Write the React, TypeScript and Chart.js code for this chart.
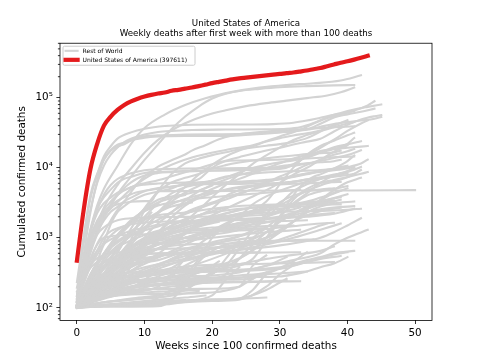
import React, { useEffect, useRef } from 'react';
import { Chart, registerables } from 'chart.js';

Chart.register(...registerables);

type Series = [number, number][];

const titleLines = ['United States of America', 'Weekly deaths after first week with more than 100 deaths'];
const xTitle = 'Weeks since 100 confirmed deaths';
const yTitle = 'Cumulated confirmed deaths';
const usaLabel = 'United States of America (397611)';
const restLabel = 'Rest of World';
const xTickValues = [0, 10, 20, 30, 40, 50];
const yTickValues = [100, 1000, 10000, 100000];
const yTickLabels = ['10²', '10³', '10⁴', '10⁵'];

const usaColor = '#e41a1c';
const greyColor = '#d3d3d3';

const usa: Series = [[0,470],[1,2500],[2,9600],[3,22000],[4,40000],[5,54000],[6,67000],[7,79000],[8,89000],[9,97000],[10,104000],[11,110000],[12,115000],[13,119000],[14,126000],[15,130000],[16,135000],[17,140000],[18,147000],[19,154000],[20,162000],[21,169000],[22,176000],[23,183000],[24,189000],[25,194000],[26,199000],[27,204000],[28,209000],[29,214000],[30,219000],[31,225000],[32,230000],[33,237000],[34,245000],[35,256000],[36,266000],[37,282000],[38,299000],[39,317000],[40,332000],[41,351000],[42,373000],[43,397611]];

const brazil: Series = [[0,136],[1,486],[2,1328],[3,2906],[4,5017],[6,10627],[8,22013],[10,37134],[13,57622],[16,78772],[19,98644],[23,121381],[27,139808],[31,152460],[35,161106],[39,176628],[42,209296]];
const india: Series = [[0,109],[2,603],[4,1895],[6,4187],[8,7466],[10,12948],[12,21604],[14,35747],[16,53994],[18,75062],[20,97497],[22,114031],[24,124985],[27,134000],[30,141360],[34,146756],[38,150336],[41,152093]];
const mexico: Series = [[0,125],[2,857],[4,2704],[6,5666],[8,9779],[10,16448],[12,25060],[14,34191],[16,43374],[19,55908],[22,66329],[25,76000],[28,84000],[31,91000],[34,99000],[37,108000],[39,120000],[41,140241]];
const uk: Series = [[0,233],[1,1019],[2,3605],[3,7978],[4,14607],[5,20319],[6,26097],[8,32065],[10,36042],[13,39500],[17,41300],[24,41500],[29,42100],[32,44000],[34,47250],[36,51900],[38,57000],[40,62000],[42,71000],[43,78000],[44,89261]];
const italy: Series = [[0,148],[1,827],[2,2503],[3,6077],[4,10779],[5,15362],[6,19468],[7,23227],[8,25969],[10,29958],[12,32486],[14,33689],[17,34700],[22,35200],[28,35473],[31,36000],[33,37905],[35,43589],[37,52850],[39,60606],[41,67894],[43,74159],[45,80326]];
const spain: Series = [[0,136],[1,1002],[2,4089],[3,8189],[4,13055],[5,17489],[6,20043],[7,21717],[8,24543],[10,26834],[12,27940],[16,28432],[22,28500],[26,30000],[30,32000],[34,35000],[36,38500],[38,42300],[40,45000],[42,47300],[44,50100],[45,53300]];
const france: Series = [[0,127],[1,562],[2,2314],[3,6507],[4,13197],[5,17920],[6,21340],[7,22856],[8,24760],[10,28108],[12,29065],[16,29778],[20,30120],[24,30305],[27,31000],[30,32300],[32,33400],[34,35400],[36,42600],[38,52300],[40,58000],[42,63200],[44,70000]];
const russia: Series = [[0,148],[2,867],[4,2009],[6,3249],[9,6000],[13,10000],[17,14000],[22,18000],[26,21000],[30,28000],[33,35000],[36,47000],[39,58000],[41,65000]];
const iran: Series = [[0,194],[1,514],[2,988],[3,1685],[4,2517],[5,3294],[6,4110],[8,5297],[10,6028],[12,6640],[14,7564],[16,8659],[18,9863],[20,11260],[22,12635],[24,14188],[26,15912],[28,17617],[30,19331],[32,21571],[34,23632],[36,26000],[38,33000],[40,41000],[42,49000],[44,54500],[45,56538]];
const colombia: Series = [[0,112],[2,215],[4,358],[6,546],[8,905],[10,1372],[12,2310],[14,3623],[16,5307],[18,7975],[20,11017],[22,14492],[24,17612],[26,20348],[28,23665],[30,26556],[32,28970],[34,31135],[36,34000],[38,40000],[40,48000]];
const argentina: Series = [[0,100],[2,176],[4,250],[6,331],[8,476],[10,632],[12,913],[14,1245],[16,1720],[18,2490],[20,3800],[22,5703],[24,8050],[26,11410],[28,15000],[30,19411],[32,24921],[34,29301],[36,33560],[38,38000],[40,43000],[41,45125]];
const germany: Series = [[0,108],[1,444],[2,1275],[3,2607],[4,3804],[5,4879],[6,6126],[7,6993],[8,7417],[10,8450],[12,8700],[16,8970],[20,9128],[26,9350],[30,9600],[32,10900],[34,14800],[36,19300],[38,25200],[40,33600],[42,43000],[43,47600]];
const peru: Series = [[0,121],[1,230],[2,484],[3,826],[4,1200],[5,1770],[6,2500],[7,3300],[8,4500],[9,6000],[10,7500],[12,10400],[14,12800],[16,15500],[17,17600],[19,21000],[21,25600],[23,28900],[25,31000],[28,33000],[31,34400],[34,35900],[37,37400],[39,38300],[41,39274]];
const southAfrica: Series = [[0,103],[2,148],[4,311],[6,611],[8,1354],[10,2657],[12,4669],[14,8153],[16,11556],[18,13502],[20,15168],[22,16667],[24,18370],[26,19539],[28,20671],[30,21803],[32,23451],[34,26521],[36,32824],[37,37449],[38,40574]];
const poland: Series = [[0,109],[2,245],[4,460],[6,733],[8,915],[10,1092],[12,1260],[14,1375],[16,1550],[18,1682],[20,1844],[22,2010],[24,2230],[26,2467],[28,3308],[30,5783],[32,10045],[34,15396],[36,20592],[38,24345],[40,29119],[41,31600]];
const indonesia: Series = [[0,170],[2,373],[4,520],[6,773],[8,1063],[10,1418],[12,1801],[14,2339],[16,3089],[18,3957],[20,4975],[22,5968],[24,6944],[26,8230],[28,9837],[30,11580],[32,13611],[34,15148],[36,16646],[38,18500],[40,22000],[41,26590]];
const turkey: Series = [[0,108],[1,356],[2,812],[3,1518],[4,2259],[5,2900],[6,3397],[8,4199],[10,4692],[12,5025],[14,5409],[16,5738],[18,6150],[20,6497],[22,7300],[24,8600],[26,9900],[28,11000],[30,12000],[32,12700],[34,14000],[36,16500],[38,19700],[40,21600],[42,24000]];
const ukraine: Series = [[0,108],[2,272],[4,450],[6,550],[8,700],[10,900],[12,1100],[14,1280],[16,1500],[18,1750],[20,2100],[22,2600],[24,3200],[26,3900],[28,4800],[30,6100],[32,8000],[34,10000],[36,13000],[38,17000],[40,21000]];
const belgium: Series = [[0,122],[1,431],[2,1283],[3,2523],[4,4157],[5,5683],[6,6917],[7,7703],[8,8339],[10,9237],[12,9548],[16,9726],[22,9870],[28,10000],[30,10100],[31,10500],[32,11300],[33,12900],[34,14600],[35,16000],[36,17300],[38,18600],[40,19300],[43,20500]];
const romania: Series = [[0,114],[2,300],[4,581],[6,850],[8,1116],[10,1280],[12,1450],[14,1740],[16,2178],[18,2599],[20,3054],[22,3515],[24,4200],[26,5000],[28,6100],[30,7500],[32,9000],[34,11000],[36,13000],[38,15300],[40,17200],[41,18500]];
const chile: Series = [[0,105],[2,168],[4,270],[6,421],[8,944],[10,2475],[12,4502],[14,6192],[16,7186],[18,8138],[20,9745],[22,10916],[24,11895],[26,12725],[28,13635],[30,14404],[32,15000],[34,15663],[36,16124],[38,16608],[39,17500]];
const canada: Series = [[0,106],[1,280],[2,653],[3,1310],[4,2142],[5,3014],[6,4048],[7,5134],[8,6176],[9,7081],[10,7770],[12,8416],[14,8684],[16,8866],[20,9120],[24,9320],[28,9830],[30,10175],[32,10670],[34,11500],[36,12470],[38,13800],[40,15200],[42,17800]];
const ecuador: Series = [[0,120],[1,220],[2,388],[3,576],[4,883],[5,1564],[6,2327],[7,2839],[8,3313],[10,4112],[12,4574],[14,5063],[16,6070],[18,6888],[20,10000],[22,12400],[24,12700],[28,12900],[32,13300],[36,13900],[41,14500]];
const czechia: Series = [[0,112],[2,210],[4,259],[6,300],[8,319],[10,330],[14,349],[18,373],[20,401],[22,434],[24,512],[26,656],[28,1000],[29,1297],[30,2016],[31,2936],[32,4052],[33,5349],[34,6514],[35,7434],[36,8054],[38,9800],[40,12500],[41,15000]];
const netherlands: Series = [[0,106],[1,434],[2,1173],[3,2248],[4,3134],[5,3751],[6,4409],[7,4795],[8,5288],[10,5748],[12,5951],[16,6132],[22,6180],[26,6300],[28,6500],[30,6800],[32,7400],[34,8100],[36,8900],[38,9500],[40,10200],[42,11500],[43,13100]];
const iraq: Series = [[0,102],[2,120],[4,140],[6,200],[8,400],[10,1000],[12,1600],[14,2300],[16,3400],[18,4600],[20,5700],[22,6800],[24,7900],[26,8800],[28,9600],[30,10500],[32,11100],[34,11600],[36,12000],[38,12400],[39,13000]];
const hungary: Series = [[0,109],[2,213],[4,312],[6,404],[8,462],[10,517],[12,550],[16,590],[20,620],[22,680],[24,760],[26,1000],[28,1400],[30,2000],[32,3100],[34,4300],[36,6100],[38,7800],[40,9000],[41,10000]];
const pakistan: Series = [[0,107],[2,237],[4,385],[6,667],[8,1133],[10,2002],[12,3093],[14,4304],[16,5266],[18,5763],[20,6035],[22,6153],[24,6335],[26,6494],[28,6726],[30,6968],[32,7500],[34,8300],[36,9000],[38,9800],[40,10700]];
const philippines: Series = [[0,107],[2,247],[4,446],[6,558],[8,726],[10,873],[12,1036],[14,1306],[16,1603],[18,2059],[20,2600],[22,3950],[24,4800],[26,5500],[28,6200],[30,7000],[32,7700],[34,8300],[36,8750],[38,9200],[40,9800],[41,10300]];
const egypt: Series = [[0,103],[2,200],[4,295],[6,415],[8,608],[10,850],[12,1199],[14,1959],[16,2887],[18,3702],[20,4302],[22,4887],[24,5323],[26,5541],[28,5815],[30,6022],[32,6291],[34,6850],[36,7150],[38,7480],[40,7900],[41,8200]];
const bolivia: Series = [[0,102],[2,169],[4,300],[6,460],[8,800],[10,1290],[12,2220],[14,3300],[16,4400],[18,5500],[20,6600],[22,7500],[24,8000],[26,8300],[28,8600],[30,8800],[32,8950],[34,9100],[36,9300],[38,9600]];
const sweden: Series = [[0,105],[1,358],[2,687],[3,1203],[4,1765],[5,2355],[6,2769],[7,3313],[8,3743],[10,4639],[12,5122],[14,5370],[16,5700],[20,5850],[24,5900],[28,6000],[30,6100],[32,6300],[34,6800],[36,7300],[38,8000],[40,8700],[42,10300]];
const portugal: Series = [[0,119],[1,311],[2,470],[3,657],[4,820],[5,948],[6,1063],[8,1263],[10,1396],[12,1534],[14,1630],[16,1700],[20,1788],[22,1829],[24,1950],[26,2200],[28,2500],[30,2900],[32,3700],[34,4700],[36,5600],[38,6400],[40,7300],[42,9300]];
const bulgaria: Series = [[0,108],[2,130],[4,158],[6,194],[8,230],[10,304],[12,392],[14,500],[16,600],[18,700],[20,780],[22,900],[24,1050],[26,1300],[28,1900],[30,3000],[32,4600],[34,5800],[36,6900],[38,7700],[39,8100]];
const switzerland: Series = [[0,120],[1,359],[2,715],[3,1121],[4,1416],[5,1625],[6,1782],[8,1900],[10,1950],[14,1980],[20,2010],[24,2060],[28,2150],[30,2400],[31,2700],[32,3500],[33,4300],[34,5000],[36,6100],[38,6700],[40,7400],[42,8200],[43,8700]];
const bangladesh: Series = [[0,101],[2,163],[4,213],[6,298],[8,480],[10,781],[12,1171],[14,1738],[16,2275],[18,2751],[20,3184],[22,3781],[24,4333],[26,4939],[28,5555],[30,5966],[32,6350],[34,6700],[36,7100],[38,7500],[39,7900]];
const austria: Series = [[0,108],[1,243],[2,410],[3,510],[4,569],[5,600],[6,615],[8,643],[10,670],[14,700],[18,715],[22,750],[24,800],[26,890],[28,1000],[30,1200],[32,1700],[34,2500],[36,3500],[38,4800],[40,6200],[42,7200]];
const saudiArabia: Series = [[0,103],[2,144],[4,264],[6,411],[8,857],[10,1602],[12,2325],[14,3020],[16,3580],[18,4049],[20,4458],[22,4829],[24,5165],[26,5402],[28,5608],[30,5780],[32,5920],[34,6020],[36,6123],[38,6240],[39,6300]];
const morocco: Series = [[0,107],[2,137],[4,171],[6,188],[8,202],[10,210],[12,218],[14,232],[16,297],[18,494],[20,1000],[22,1500],[24,2000],[26,3000],[28,3900],[30,4700],[32,5500],[34,6300],[36,7000],[38,7700],[40,8400]];
const china: Series = [[0,132],[1,361],[2,1018],[3,1770],[4,2345],[5,2788],[6,3013],[7,3170],[8,3277],[10,3339],[11,3345],[12,4642],[14,4645],[20,4645],[30,4739],[40,4746],[50,4800]];
const japan: Series = [[0,103],[2,171],[4,370],[6,556],[8,767],[10,883],[12,916],[14,970],[16,990],[18,1010],[20,1130],[22,1400],[24,1620],[26,1740],[28,1880],[30,2010],[32,2280],[34,2660],[36,3400],[38,4400],[39,4700]];
const israel: Series = [[0,101],[2,172],[4,230],[6,264],[8,285],[10,300],[12,315],[14,370],[16,500],[18,800],[20,1100],[22,1500],[24,2000],[26,2400],[28,2700],[30,2800],[32,2900],[34,3050],[36,3300],[38,3700],[40,4200]];
const panama: Series = [[0,103],[2,176],[4,248],[6,297],[8,336],[10,457],[12,590],[14,830],[16,1127],[18,1500],[20,1900],[22,2200],[24,2480],[26,2700],[28,2800],[30,2900],[32,3050],[34,3300],[36,3750],[38,4300],[40,5100]];
const guatemala: Series = [[0,105],[2,250],[4,600],[6,1100],[8,1800],[10,2400],[12,2900],[14,3200],[16,3450],[18,3650],[20,3800],[22,3950],[24,4100],[26,4250],[28,4400],[30,4600],[33,4900]];
const honduras: Series = [[0,105],[2,130],[4,180],[6,280],[8,450],[10,750],[12,1100],[14,1500],[16,1850],[18,2100],[20,2300],[22,2450],[24,2600],[26,2700],[28,2800],[30,2900],[32,2950],[34,3050],[36,3150],[38,3250]];
const dominicanRepublic: Series = [[0,108],[2,235],[4,300],[6,400],[8,470],[10,560],[12,700],[14,900],[16,1200],[18,1600],[20,1900],[22,2050],[24,2150],[28,2280],[32,2370],[36,2420],[40,2520],[42,2600]];
const ireland: Series = [[0,100],[1,263],[2,410],[3,660],[4,1000],[5,1240],[6,1370],[8,1560],[10,1650],[14,1720],[18,1750],[22,1780],[26,1810],[30,1900],[34,2000],[38,2200],[41,2600]];
const algeria: Series = [[0,105],[2,275],[4,400],[6,460],[8,530],[10,630],[12,710],[14,800],[16,880],[18,1100],[20,1300],[22,1450],[24,1620],[26,1750],[28,1850],[30,1950],[32,2100],[34,2350],[36,2550],[38,2700],[41,2830]];
const kazakhstan: Series = [[0,105],[2,250],[4,800],[6,1300],[8,1600],[10,1900],[12,2100],[16,2300],[20,2600],[24,2850],[28,2950],[30,3000]];
const moldova: Series = [[0,103],[2,165],[4,290],[6,400],[8,550],[10,760],[12,950],[14,1130],[16,1280],[18,1500],[20,1680],[22,1900],[24,2100],[26,2300],[28,2450],[30,2600],[32,2750],[34,2850],[36,2950],[39,3000]];
const nigeria: Series = [[0,107],[2,200],[4,300],[6,420],[8,570],[10,800],[12,920],[14,1050],[16,1150],[20,1230],[24,1270],[28,1340],[32,1470],[36,1600],[38,1640]];
const kenya: Series = [[0,103],[2,150],[4,220],[6,400],[8,600],[10,800],[12,850],[14,900],[16,1000],[18,1150],[20,1300],[22,1500],[24,1600],[28,1700],[34,1780]];
const ethiopia: Series = [[0,103],[2,160],[4,300],[6,500],[8,750],[10,1000],[12,1200],[14,1400],[16,1550],[20,1730],[24,1850],[28,1950]];
const afghanistan: Series = [[0,104],[2,170],[4,270],[6,400],[8,550],[10,800],[12,1000],[14,1170],[16,1270],[20,1400],[24,1480],[26,1550],[28,1650],[30,1850],[32,2000],[34,2100],[38,2250]];
const tunisia: Series = [[0,107],[2,300],[4,600],[6,1000],[8,1600],[10,2600],[12,3500],[14,3900],[16,4200],[18,4700],[20,5600]];
const lebanon: Series = [[0,105],[4,250],[8,500],[12,700],[16,1000],[20,1300],[23,1800]];
const serbia: Series = [[0,103],[2,160],[4,200],[6,230],[8,245],[12,260],[14,300],[16,500],[18,600],[20,700],[24,760],[28,900],[30,1200],[32,1700],[34,2300],[36,2800],[38,3100],[41,3300]];
const croatia: Series = [[0,100],[4,105],[8,110],[10,115],[12,140],[14,180],[16,210],[18,260],[20,310],[22,400],[24,700],[26,1300],[28,2200],[30,3200],[32,4000],[34,4600],[36,4900],[38,5100]];
const slovakia: Series = [[0,102],[2,280],[4,580],[6,1100],[8,1700],[10,2400],[12,3000]];
const bosnia: Series = [[0,105],[4,150],[8,165],[12,200],[16,400],[20,600],[24,800],[28,1200],[30,1700],[32,2200],[34,2800],[36,3300],[39,3800]];
const greece: Series = [[0,102],[2,130],[4,146],[6,155],[8,172],[10,180],[12,190],[14,201],[16,210],[18,240],[20,310],[22,380],[24,500],[26,680],[28,1000],[30,2000],[32,3000],[34,4000],[36,4600],[38,5000],[40,5500]];
const denmark: Series = [[0,123],[2,260],[4,400],[6,500],[8,560],[10,590],[14,605],[18,615],[22,640],[26,700],[30,780],[34,900],[36,1000],[38,1200],[40,1500],[42,1900]];
const finland: Series = [[0,103],[2,190],[4,240],[6,300],[8,320],[10,326],[14,330],[18,340],[22,345],[26,355],[30,380],[32,400],[34,450],[36,520],[38,580],[40,620]];
const norway: Series = [[0,108],[2,164],[4,200],[6,215],[8,230],[10,237],[14,250],[18,255],[22,265],[26,275],[30,280],[32,300],[34,330],[36,380],[38,430],[40,530]];
const slovenia: Series = [[0,104],[4,135],[8,170],[12,215],[16,225],[20,250],[22,300],[24,500],[26,800],[28,1200],[30,1700],[32,2200],[34,2600],[36,3000],[38,3300],[39,3500]];
const lithuania: Series = [[0,104],[2,200],[4,400],[6,700],[8,1200],[10,1800],[11,2300]];
const northMacedonia: Series = [[0,106],[4,160],[8,240],[12,400],[16,600],[20,700],[24,800],[28,1000],[30,1300],[32,1700],[34,2100],[36,2400],[39,2700]];
const armenia: Series = [[0,105],[4,200],[8,400],[12,700],[16,900],[20,1100],[24,1300],[28,2000],[30,2500],[32,2900],[34,3200],[38,3400]];
const azerbaijan: Series = [[0,102],[4,300],[8,600],[12,800],[16,1000],[20,1200],[24,1500],[28,2000],[30,2300],[33,2700]];
const georgia: Series = [[0,105],[4,300],[8,700],[12,1200],[16,1800],[20,2400],[22,2700]];
const belarus: Series = [[0,107],[4,160],[8,270],[12,390],[16,470],[20,580],[24,680],[28,800],[32,1000],[36,1300],[39,1600]];
const uzbekistan: Series = [[0,105],[4,200],[8,400],[12,560],[16,600],[20,610],[24,615],[27,620]];
const kyrgyzstan: Series = [[0,107],[2,500],[4,1000],[8,1100],[12,1150],[16,1250],[20,1300],[24,1350],[28,1380]];
const nepal: Series = [[0,105],[4,250],[8,500],[12,800],[16,1200],[20,1700],[23,1900]];
const myanmar: Series = [[0,110],[2,300],[4,600],[6,900],[8,1200],[10,1800],[12,2300],[14,2800],[17,3200]];
const malaysia: Series = [[0,100],[4,108],[8,117],[12,121],[16,124],[20,128],[24,136],[26,180],[28,300],[30,360],[32,420],[34,480],[36,530],[38,600],[41,650]];
const elSalvador: Series = [[0,105],[4,300],[8,600],[12,800],[16,900],[20,1000],[24,1100],[28,1200],[33,1300]];
const costaRica: Series = [[0,105],[4,300],[8,600],[12,1000],[16,1400],[20,1800],[24,2200],[28,2600]];
const paraguay: Series = [[0,105],[4,280],[8,700],[12,1200],[16,1600],[20,2000],[24,2500]];
const venezuela: Series = [[0,104],[4,220],[8,380],[12,530],[16,700],[20,830],[24,950],[26,1010]];
const haiti: Series = [[0,104],[4,140],[8,190],[12,210],[16,225],[20,230],[28,235],[33,240]];
const sudan: Series = [[0,100],[4,150],[8,450],[12,700],[16,800],[20,820],[24,830],[28,850],[32,1100],[36,1500],[37,1600]];
const cameroon: Series = [[0,101],[4,140],[8,190],[12,330],[16,390],[20,410],[28,425],[38,450]];
const ghana: Series = [[0,105],[4,180],[8,260],[12,300],[16,320],[20,330],[24,335],[28,350],[31,370]];
const zambia: Series = [[0,104],[4,200],[8,300],[12,340],[16,350],[20,360],[24,400],[26,500],[28,900]];
const zimbabwe: Series = [[0,104],[4,200],[8,230],[12,240],[16,260],[20,300],[22,500],[24,900]];
const senegal: Series = [[0,105],[4,200],[8,260],[12,300],[16,320],[20,330],[24,340],[28,400],[31,530]];
const jordan: Series = [[0,100],[2,250],[4,500],[6,1000],[8,1700],[10,2500],[12,3200],[14,3700],[16,4100]];
const oman: Series = [[0,104],[4,200],[8,500],[12,800],[16,1000],[20,1200],[24,1400],[28,1470],[32,1500]];
const kuwait: Series = [[0,102],[4,200],[8,330],[12,420],[16,500],[20,600],[24,750],[28,850],[32,920],[35,950]];
const uae: Series = [[0,105],[4,200],[8,280],[12,310],[16,340],[20,380],[24,420],[28,500],[32,570],[36,650],[38,750]];
const qatar: Series = [[0,104],[4,160],[8,200],[12,210],[16,220],[20,230],[28,240],[31,245]];
const bahrain: Series = [[0,100],[4,160],[8,200],[12,260],[16,300],[20,340],[24,350],[27,355]];
const libya: Series = [[0,104],[4,300],[8,650],[12,1000],[16,1300],[21,1700]];
const southKorea: Series = [[0,105],[2,150],[4,177],[6,225],[8,240],[10,256],[12,264],[16,280],[20,290],[24,320],[28,400],[32,480],[36,600],[38,800],[40,1000],[43,1300]];
const australia: Series = [[0,102],[4,104],[8,104],[12,105],[14,130],[16,220],[18,450],[20,650],[22,800],[24,870],[26,895],[30,905],[36,908],[41,909]];
const luxembourg: Series = [[0,105],[4,110],[12,110],[16,120],[20,125],[24,130],[28,200],[30,300],[32,400],[34,450],[36,500],[39,550]];
const cuba: Series = [[0,100],[4,110],[8,120],[12,130],[16,140],[19,150]];
const mali: Series = [[0,102],[4,110],[8,116],[12,124],[16,128],[20,132],[24,136],[28,180],[30,230],[31,260]];
const tajikistan: Series = [[0,100],[4,120],[8,130],[12,150],[16,200],[20,240],[24,270],[28,300],[32,320],[34,330]];
const mauritania: Series = [[0,102],[4,140],[8,155],[12,158],[16,160],[20,165],[24,200],[26,260],[28,320]];
const drCongo: Series = [[0,101],[4,150],[8,200],[12,240],[16,250],[20,270],[24,290],[28,320],[32,460],[34,620]];
const madagascar: Series = [[0,103],[4,150],[8,190],[12,220],[16,240],[20,250],[24,255],[26,260]];
const malawi: Series = [[0,104],[4,150],[8,180],[12,185],[16,186],[20,187],[24,200],[26,400],[28,560]];
const namibia: Series = [[0,103],[4,150],[8,200],[12,240],[16,270],[20,400],[21,460]];
const mozambique: Series = [[0,104],[4,120],[8,136],[12,150],[16,180],[18,240],[20,330]];
const uganda: Series = [[0,104],[4,200],[8,240],[12,260],[16,300]];
const eswatini: Series = [[0,100],[4,105],[8,110],[12,115],[16,125],[20,150],[22,250],[24,380]];
const montenegro: Series = [[0,100],[4,180],[8,260],[12,360],[16,480],[20,600],[22,690]];
const kosovo: Series = [[0,103],[4,300],[8,420],[12,480],[16,650],[20,860],[24,1050],[28,1350]];
const albania: Series = [[0,103],[4,160],[8,220],[12,280],[16,370],[20,500],[24,700],[28,1000],[30,1250]];
const jamaica: Series = [[0,104],[4,180],[8,230],[12,260],[16,280],[18,320]];
const guyana: Series = [[0,100],[4,140],[8,160],[12,170],[16,175],[18,180]];
const suriname: Series = [[0,104],[4,120],[8,130],[12,140],[16,160],[18,170]];
const trinidad: Series = [[0,100],[4,108],[8,117],[12,123],[16,129]];
const syria: Series = [[0,104],[4,200],[8,300],[12,420],[16,550],[20,700],[22,780]];
const palestine: Series = [[0,102],[4,200],[8,340],[12,520],[16,800],[20,1200],[22,1400]];
const yemen: Series = [[0,102],[2,250],[4,400],[6,500],[8,560],[10,590],[14,600],[18,605],[22,610],[26,612],[30,618],[33,622]];
const ivoryCoast: Series = [[0,101],[4,110],[8,115],[12,120],[16,125],[20,130],[24,135],[28,140]];

const restNames = ['Brazil','India','Mexico','United Kingdom','Italy','Spain','France','Russia','Iran','Colombia','Argentina','Germany','Peru','South Africa','Poland','Indonesia','Turkey','Ukraine','Belgium','Romania','Chile','Canada','Ecuador','Czechia','Netherlands','Iraq','Hungary','Pakistan','Philippines','Egypt','Bolivia','Sweden','Portugal','Bulgaria','Switzerland','Bangladesh','Austria','Saudi Arabia','Morocco','China','Japan','Israel','Panama','Guatemala','Honduras','Dominican Republic','Ireland','Algeria','Kazakhstan','Moldova','Nigeria','Kenya','Ethiopia','Afghanistan','Tunisia','Lebanon','Serbia','Croatia','Slovakia','Bosnia and Herzegovina','Greece','Denmark','Finland','Norway','Slovenia','Lithuania','North Macedonia','Armenia','Azerbaijan','Georgia','Belarus','Uzbekistan','Kyrgyzstan','Nepal','Myanmar','Malaysia','El Salvador','Costa Rica','Paraguay','Venezuela','Haiti','Sudan','Cameroon','Ghana','Zambia','Zimbabwe','Senegal','Jordan','Oman','Kuwait','United Arab Emirates','Qatar','Bahrain','Libya','South Korea','Australia','Luxembourg','Cuba','Mali','Tajikistan','Mauritania','DR Congo','Madagascar','Malawi','Namibia','Mozambique','Uganda','Eswatini','Montenegro','Kosovo','Albania','Jamaica','Guyana','Suriname','Trinidad and Tobago','Syria','Palestine','Yemen',"Cote d'Ivoire"];
const restOfWorld: Series[] = [brazil,india,mexico,uk,italy,spain,france,russia,iran,colombia,argentina,germany,peru,southAfrica,poland,indonesia,turkey,ukraine,belgium,romania,chile,canada,ecuador,czechia,netherlands,iraq,hungary,pakistan,philippines,egypt,bolivia,sweden,portugal,bulgaria,switzerland,bangladesh,austria,saudiArabia,morocco,china,japan,israel,panama,guatemala,honduras,dominicanRepublic,ireland,algeria,kazakhstan,moldova,nigeria,kenya,ethiopia,afghanistan,tunisia,lebanon,serbia,croatia,slovakia,bosnia,greece,denmark,finland,norway,slovenia,lithuania,northMacedonia,armenia,azerbaijan,georgia,belarus,uzbekistan,kyrgyzstan,nepal,myanmar,malaysia,elSalvador,costaRica,paraguay,venezuela,haiti,sudan,cameroon,ghana,zambia,zimbabwe,senegal,jordan,oman,kuwait,uae,qatar,bahrain,libya,southKorea,australia,luxembourg,cuba,mali,tajikistan,mauritania,drCongo,madagascar,malawi,namibia,mozambique,uganda,eswatini,montenegro,kosovo,albania,jamaica,guyana,suriname,trinidad,syria,palestine,yemen,ivoryCoast];

const FONT = '"DejaVu Sans", sans-serif';

const framePlugin = {
  id: 'mplFrame',
  afterDatasetsDraw(chart: any) {
    const { ctx, chartArea: a } = chart;
    // legend box (inside the axes, upper left)
    const x0 = a.left + 3;
    const y0 = a.top + 3;
    const w = 132;
    const h = 19;
    ctx.save();
    ctx.beginPath();
    if (ctx.roundRect) ctx.roundRect(x0, y0, w, h, 1.5); else ctx.rect(x0, y0, w, h);
    ctx.fillStyle = 'rgba(255,255,255,0.8)';
    ctx.fill();
    ctx.strokeStyle = '#cccccc';
    ctx.lineWidth = 1;
    ctx.stroke();
    const rows = [
      { label: restLabel, color: greyColor, width: 2.1 },
      { label: usaLabel, color: usaColor, width: 4.2 },
    ];
    rows.forEach((r, i) => {
      const yy = y0 + 4.6 + i * 9;
      ctx.beginPath();
      ctx.lineCap = 'square';
      ctx.strokeStyle = r.color;
      ctx.lineWidth = r.width;
      ctx.moveTo(x0 + 2.6, yy);
      ctx.lineTo(x0 + 14.6, yy);
      ctx.stroke();
      ctx.fillStyle = '#000';
      ctx.font = '6px ' + FONT;
      ctx.textBaseline = 'middle';
      ctx.textAlign = 'left';
      ctx.fillText(r.label, x0 + 19.6, yy + 0.3);
    });
    ctx.restore();
  },
  afterDraw(chart: any) {
    const { ctx, chartArea: a, scales } = chart;
    const y = scales.y;
    ctx.save();
    ctx.strokeStyle = '#000';
    ctx.lineWidth = 0.8;
    ctx.beginPath();
    for (let e = 1; e <= 5; e++) {
      for (let k = 2; k <= 9; k++) {
        const v = k * Math.pow(10, e);
        if (v < y.min || v > y.max) continue;
        const py = y.getPixelForValue(v);
        ctx.moveTo(a.left, py);
        ctx.lineTo(a.left - 2.1, py);
      }
    }
    ctx.stroke();
    ctx.strokeRect(a.left, a.top, a.right - a.left, a.bottom - a.top);
    ctx.restore();
  },
};

export default function App() {
  const ref = useRef<HTMLCanvasElement>(null);
  useEffect(() => {
    if (!ref.current) return;
    const datasets: any[] = [
      {
        label: usaLabel,
        data: usa,
        borderColor: usaColor,
        backgroundColor: usaColor,
        borderWidth: 4.2,
        order: 0,
      },
      ...restOfWorld.map((d, i) => ({
        label: i === 0 ? restLabel : restNames[i],
        data: d,
        borderColor: greyColor,
        backgroundColor: greyColor,
        borderWidth: 2.1,
        order: 1,
      })),
    ];
    const tickFont = { family: FONT, size: 10.4 };
    const chart = new Chart(ref.current, {
      type: 'line',
      data: { datasets },
      options: {
        animation: false,
        responsive: false,
        devicePixelRatio: 1,
        events: [],
        layout: { padding: { left: 12, right: 0, top: 0, bottom: 0 } },
        elements: {
          point: { radius: 0, hoverRadius: 0 },
          line: {
            cubicInterpolationMode: 'monotone',
            fill: false,
            borderJoinStyle: 'round',
            borderCapStyle: 'square',
          },
        },
        plugins: {
          legend: { display: false },
          tooltip: { enabled: false },
          title: {
            display: true,
            text: titleLines,
            color: '#000',
            font: { family: FONT, size: 8.68, weight: 'normal', lineHeight: 1.2 },
            padding: { top: 18.1, bottom: 4.3 },
          },
        },
        scales: {
          x: {
            type: 'linear',
            position: 'bottom',
            min: -2.5,
            max: 52.5,
            afterBuildTicks: (s: any) => {
              s.ticks = xTickValues.map((v) => ({ value: v }));
            },
            afterFit: (s: any) => {
              s.height = 39.6;
            },
            grid: {
              display: true,
              drawOnChartArea: false,
              drawTicks: true,
              tickLength: 3.6,
              color: '#000',
              lineWidth: 0.8,
            },
            border: { display: false },
            ticks: {
              autoSkip: false,
              maxRotation: 0,
              padding: 2.8,
              color: '#000',
              font: tickFont,
              callback: (v: any) => String(v),
            },
            title: {
              display: true,
              text: xTitle,
              color: '#000',
              font: { family: FONT, size: 10.4 },
              padding: { top: 0, bottom: 7.8 },
            },
          },
          y: {
            type: 'logarithmic',
            position: 'left',
            min: 66.07,
            max: 601700,
            afterBuildTicks: (s: any) => {
              s.ticks = yTickValues.map((v) => ({ value: v, major: true }));
            },
            afterFit: (s: any) => {
              s.width = 48;
            },
            grid: {
              display: true,
              drawOnChartArea: false,
              drawTicks: true,
              tickLength: 3.6,
              color: '#000',
              lineWidth: 0.8,
            },
            border: { display: false },
            ticks: {
              autoSkip: false,
              padding: 3.6,
              color: '#000',
              font: tickFont,
              callback: (_v: any, i: number) => yTickLabels[i],
            },
            title: {
              display: true,
              text: yTitle,
              color: '#000',
              font: { family: FONT, size: 10.4 },
              padding: { top: 4.3, bottom: 0 },
            },
          },
          yRight: {
            type: 'linear',
            position: 'right',
            display: true,
            grid: { display: false },
            border: { display: false },
            ticks: { display: false },
            afterFit: (s: any) => {
              s.width = 48;
            },
          },
        },
      } as any,
      plugins: [framePlugin],
    });
    return () => chart.destroy();
  }, []);
  return (
    <div style={{ position: 'fixed', left: 0, top: 0, width: 480, height: 360, background: '#fff' }}>
      <canvas ref={ref} width={480} height={360} style={{ display: 'block', width: 480, height: 360 }} />
    </div>
  );
}
